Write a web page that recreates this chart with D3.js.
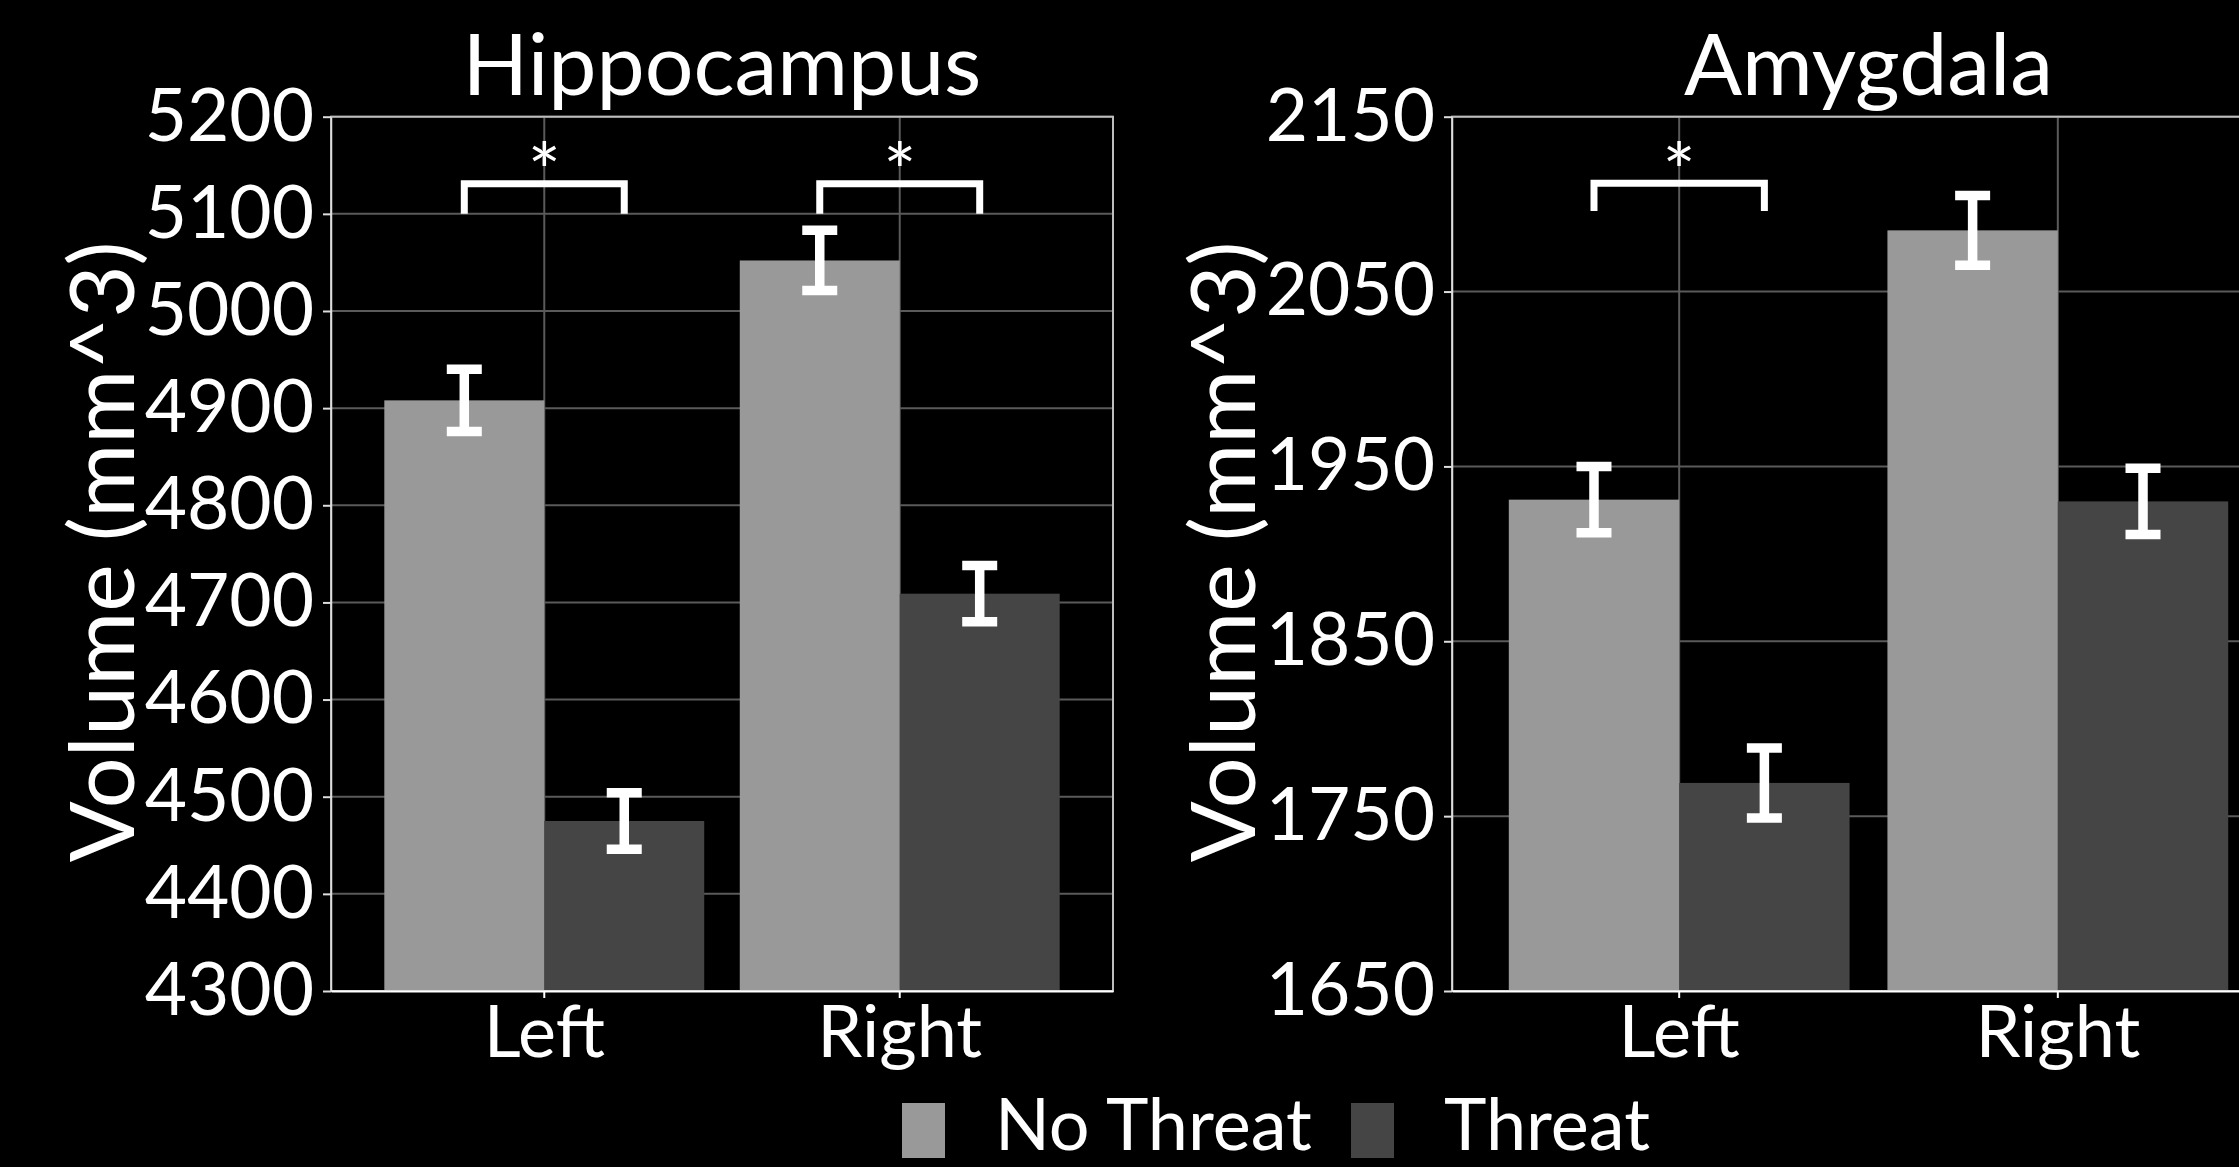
<!DOCTYPE html>
<html lang="en">
<head>
	<meta charset="utf-8">
	<title>Hippocampus and Amygdala volume</title>
	<script src="https://d3js.org/d3.v7.min.js"></script>
	<style type="text/css">
		body {
			margin: 0;
			background: black;
		}
		svg text {
			font-family: Lato, "Open Sans", sans-serif;
			fill: white;
		}
	</style>
</head>
<body>
	<svg id="chart-svg"></svg>

	<script type="text/javascript">
		// data ----------------------------------
		let sides = ['Left', 'Right']
		let groups = ['No Threat', 'Threat']

		let hippoMeans = { 'No Threat': [4908, 5052], 'Threat': [4475, 4709] }
		let hippoSE = { 'No Threat': [32, 31], 'Threat': [29, 29] }
		let hippoTicks = [4300, 4400, 4500, 4600, 4700, 4800, 4900, 5000, 5100, 5200]
		let hippoStars = ['Left', 'Right']
		let hippoBracket = [5100, 5131]
		let hippoStarAt = 5158

		let amygMeans = { 'No Threat': [1931, 2085], 'Threat': [1769, 1930] }
		let amygSE = { 'No Threat': [19, 20], 'Threat': [20, 19] }
		let amygTicks = [1650, 1750, 1850, 1950, 2050, 2150]
		let amygStars = ['Left']
		let amygBracket = [2096, 2112]
		let amygStarAt = 2127

		let colors = { 'No Threat': '#999999', 'Threat': '#454545' }

		// layout ----------------------------------
		let w = 2239
		let h = 1167
		let plotTop = 116.7
		let plotBottom = 991

		let svg = d3.select('#chart-svg')
			.attr('width', w)
			.attr('height', h)

		function panel(title, means, se, ticks, stars, bracket, starAt, left, right) {
			let g = svg.append('g')

			let y = d3.scaleLinear()
				.domain([ticks[0], ticks[ticks.length - 1]])
				.range([plotBottom, plotTop])

			let x = d3.scaleBand()
				.domain(sides)
				.range([left, right])
				.paddingInner(0)
				.paddingOuter(0.1)

			let step = x.bandwidth()
			let xg = d3.scaleBand()
				.domain(groups)
				.range([0.05 * step, 0.95 * step])

			let rows = []
			groups.forEach(function(grp) {
				sides.forEach(function(s, i) {
					rows.push({ group: grp, side: s, mean: means[grp][i], se: se[grp][i] })
				})
			})

			// grid
			g.selectAll('.hgrid')
				.data(ticks)
				.enter()
				.append('line')
				.attr('x1', left)
				.attr('x2', right)
				.attr('y1', d => y(d))
				.attr('y2', d => y(d))
				.attr('stroke', '#5a5a5a')
				.attr('stroke-width', 2)

			g.selectAll('.vgrid')
				.data(sides)
				.enter()
				.append('line')
				.attr('x1', d => x(d) + step / 2)
				.attr('x2', d => x(d) + step / 2)
				.attr('y1', plotTop)
				.attr('y2', plotBottom)
				.attr('stroke', '#5a5a5a')
				.attr('stroke-width', 2)

			// bars
			g.selectAll('.bar')
				.data(rows)
				.enter()
				.append('rect')
				.attr('x', d => x(d.side) + xg(d.group))
				.attr('width', xg.bandwidth())
				.attr('y', d => y(d.mean))
				.attr('height', d => plotBottom - y(d.mean))
				.attr('fill', d => colors[d.group])

			// error bars
			let eb = g.selectAll('.err')
				.data(rows)
				.enter()
				.append('g')
				.attr('stroke', 'white')
				.attr('stroke-width', 9.5)

			eb.append('line')
				.attr('x1', d => x(d.side) + xg(d.group) + xg.bandwidth() / 2)
				.attr('x2', d => x(d.side) + xg(d.group) + xg.bandwidth() / 2)
				.attr('y1', d => y(d.mean - d.se))
				.attr('y2', d => y(d.mean + d.se))
			eb.selectAll('.cap')
				.data(d => [d.mean - d.se, d.mean + d.se].map(v => ({ v: v, d: d })))
				.enter()
				.append('line')
				.attr('x1', c => x(c.d.side) + xg(c.d.group) + xg.bandwidth() / 2 - 17.5)
				.attr('x2', c => x(c.d.side) + xg(c.d.group) + xg.bandwidth() / 2 + 17.5)
				.attr('y1', c => y(c.v))
				.attr('y2', c => y(c.v))

			// significance brackets
			g.selectAll('.bracket')
				.data(stars)
				.enter()
				.append('path')
				.attr('d', function(s) {
					let x1 = x(s) + xg('No Threat') + xg.bandwidth() / 2
					let x2 = x(s) + xg('Threat') + xg.bandwidth() / 2
					return 'M' + x1 + ',' + y(bracket[0]) + 'V' + y(bracket[1]) + 'H' + x2 + 'V' + y(bracket[0])
				})
				.attr('fill', 'none')
				.attr('stroke', 'white')
				.attr('stroke-width', 7)
				.attr('stroke-linejoin', 'miter')

			g.selectAll('.star')
				.data(stars)
				.enter()
				.append('text')
				.attr('x', s => x(s) + step / 2)
				.attr('y', y(starAt))
				.attr('dy', '0.55em')
				.attr('text-anchor', 'middle')
				.style('font-size', '78px')
				.text('*')

			// panel border
			g.append('rect')
				.attr('x', left)
				.attr('y', plotTop)
				.attr('width', right - left)
				.attr('height', plotBottom - plotTop)
				.attr('fill', 'none')
				.attr('stroke', '#bdbdbd')
				.attr('stroke-width', 2)

			// axes
			let yAxis = d3.axisLeft(y)
				.tickValues(ticks)
				.tickFormat(d3.format('d'))
				.tickSize(8)
				.tickSizeOuter(0)
				.tickPadding(9)
			let ya = g.append('g')
				.attr('transform', 'translate(' + left + ',0)')
				.call(yAxis)
			ya.select('.domain').attr('stroke', '#dddddd').attr('stroke-width', 1.5)
			ya.selectAll('.tick line').attr('stroke', '#dddddd').attr('stroke-width', 2)
			ya.selectAll('text').style('font-size', '73px').attr('font-family', null)

			let xAxis = d3.axisBottom(x)
				.tickSize(7)
				.tickSizeOuter(0)
				.tickPadding(8)
			let xa = g.append('g')
				.attr('transform', 'translate(0,' + plotBottom + ')')
				.call(xAxis)
			xa.select('.domain').attr('stroke', 'white').attr('stroke-width', 2)
			xa.selectAll('.tick line').attr('stroke', 'white').attr('stroke-width', 2)
			xa.selectAll('text').style('font-size', '72px').attr('font-family', null)

			// labels
			g.append('text')
				.attr('x', (left + right) / 2)
				.attr('y', 95)
				.attr('text-anchor', 'middle')
				.style('font-size', '86px')
				.text(title)

			g.append('text')
				.attr('transform', 'translate(' + (left - 197) + ',' + ((plotTop + plotBottom) / 2 - 2) + ') rotate(-90)')
				.attr('text-anchor', 'middle')
				.style('font-size', '90px')
				.text('Volume (mm^3)')

			return g
		}

		panel('Hippocampus', hippoMeans, hippoSE, hippoTicks, hippoStars, hippoBracket, hippoStarAt, 331, 1113)
		panel('Amygdala', amygMeans, amygSE, amygTicks, amygStars, amygBracket, amygStarAt, 1452, 2285)

		// legend
		let legendX = [902, 1351]
		let lg = svg.append('g')
		let items = lg.selectAll('g')
			.data(groups)
			.enter()
			.append('g')
			.attr('transform', (d, i) => 'translate(' + legendX[i] + ',0)')
		items.append('rect')
			.attr('x', 0)
			.attr('y', 1103)
			.attr('width', 43)
			.attr('height', 55)
			.attr('fill', d => colors[d])
		items.append('text')
			.attr('x', 93)
			.attr('y', 1150)
			.style('font-size', '72px')
			.text(d => d)
	</script>
</body>
</html>
